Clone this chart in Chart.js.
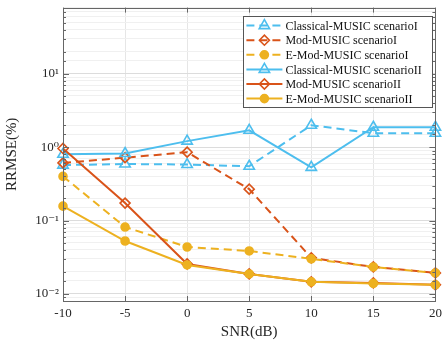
<!DOCTYPE html>
<html>
<head>
<meta charset="utf-8">
<script src="https://cdn.jsdelivr.net/npm/chart.js@4.4.0/dist/chart.umd.min.js"></script>
<style>
  html, body { margin: 0; padding: 0; background: #fff; }
  #wrap { width: 443px; height: 343px; }
</style>
</head>
<body>
<div id="wrap"><canvas id="chart-0"></canvas></div>
<script>
  var snr = [-10, -5, 0, 5, 10, 15, 20];
  var xTicks = [-10, -5, 0, 5, 10, 15, 20];

  var classicalI = [0.57, 0.59, 0.58, 0.55, 1.99, 1.55, 1.55];
  var modI = [0.61, 0.72, 0.855, 0.268, 0.031, 0.0233, 0.0193];
  var eModI = [0.40, 0.0816, 0.0436, 0.0385, 0.030, 0.0233, 0.0193];
  var classicalII = [0.80, 0.82, 1.21, 1.70, 0.53, 1.87, 1.87];
  var modII = [0.96, 0.173, 0.0256, 0.0187, 0.0146, 0.0141, 0.0133];
  var eModII = [0.157, 0.0526, 0.0248, 0.0187, 0.0146, 0.0139, 0.0133];

  var names = [
    'Classical-MUSIC scenarioI',
    'Mod-MUSIC scenarioI',
    'E-Mod-MUSIC scenarioI',
    'Classical-MUSIC scenarioII',
    'Mod-MUSIC scenarioII',
    'E-Mod-MUSIC scenarioII'
  ];

  var blue = '#4DBEEE', orange = '#D95319', yellow = '#EDB120';
  var serif = '"Liberation Serif", "Times New Roman", "DejaVu Serif", serif';
  Chart.defaults.font.family = serif;

  function points(values) {
    return values.map(function(v, i) { return {x: snr[i], y: v}; });
  }

  function makeSet(label, values, color, style, radius, dashed, filled, idx) {
    return {
      label: label,
      data: points(values),
      borderColor: color,
      backgroundColor: color,
      borderWidth: 2,
      borderDash: dashed ? [8, 5] : [],
      pointStyle: style,
      pointRadius: radius,
      pointHoverRadius: radius,
      pointBorderWidth: 1.6,
      pointBorderColor: color,
      pointBackgroundColor: filled ? color : 'rgba(0,0,0,0)',
      tension: 0,
      clip: false,
      order: 6 - idx
    };
  }

  var datasets = [
    makeSet(names[0], classicalI, blue, 'triangle', 6, true, false, 0),
    makeSet(names[1], modI, orange, 'rectRot', 5, true, false, 1),
    makeSet(names[2], eModI, yellow, 'circle', 4, true, true, 2),
    makeSet(names[3], classicalII, blue, 'triangle', 6, false, false, 3),
    makeSet(names[4], modII, orange, 'rectRot', 5, false, false, 4),
    makeSet(names[5], eModII, yellow, 'circle', 4, false, true, 5)
  ];

  var sup = {'-': '\u207B', '0': '\u2070', '1': '\u00B9', '2': '\u00B2', '3': '\u00B3'};
  function isDecade(v) {
    var l = Math.log10(v);
    return Math.abs(l - Math.round(l)) < 1e-9;
  }
  function decadeLabel(v) {
    var e = String(Math.round(Math.log10(v)));
    return '10' + e.split('').map(function(c) { return sup[c]; }).join('');
  }

  // inward ticks and box, like a matlab axes
  var boxPlugin = {
    id: 'box',
    afterDatasetsDraw: function(chart) {
      var ctx = chart.ctx, a = chart.chartArea;
      var xs = chart.scales.x, ys = chart.scales.y;
      ctx.save();
      ctx.strokeStyle = '#666';
      ctx.lineWidth = 1;
      ys.ticks.forEach(function(t) {
        var py = Math.round(ys.getPixelForValue(t.value)) + 0.5;
        if (py < a.top || py > a.bottom) return;
        var len = isDecade(t.value) ? 6 : 3;
        ctx.beginPath();
        ctx.moveTo(a.left, py); ctx.lineTo(a.left + len, py);
        ctx.moveTo(a.right, py); ctx.lineTo(a.right - len, py);
        ctx.stroke();
      });
      xTicks.forEach(function(v) {
        var px = Math.round(xs.getPixelForValue(v)) + 0.5;
        ctx.beginPath();
        ctx.moveTo(px, a.bottom); ctx.lineTo(px, a.bottom - 5);
        ctx.moveTo(px, a.top); ctx.lineTo(px, a.top + 5);
        ctx.stroke();
      });
      ctx.strokeRect(Math.round(a.left) + 0.5, Math.round(a.top) + 0.5,
        Math.round(a.right - a.left), Math.round(a.bottom - a.top));
      ctx.restore();
    }
  };

  var legendPlugin = {
    id: 'boxLegend',
    afterDraw: function(chart) {
      var ctx = chart.ctx, a = chart.chartArea;
      var w = 189, h = 91;
      var x0 = a.right - 3 - w, y0 = a.top + 8;
      ctx.save();
      ctx.fillStyle = '#fff';
      ctx.fillRect(x0, y0, w, h);
      ctx.strokeStyle = '#555';
      ctx.lineWidth = 1;
      ctx.strokeRect(Math.round(x0) + 0.5, Math.round(y0) + 0.5, w, h);
      ctx.font = '12px ' + serif;
      ctx.textBaseline = 'middle';
      chart.data.datasets.forEach(function(ds, i) {
        var cy = y0 + 10 + i * 14.6;
        ctx.strokeStyle = ds.borderColor;
        ctx.lineWidth = 2;
        ctx.setLineDash(ds.borderDash);
        ctx.beginPath();
        ctx.moveTo(x0 + 3, cy); ctx.lineTo(x0 + 39, cy);
        ctx.stroke();
        ctx.setLineDash([]);
        ctx.fillStyle = ds.pointBackgroundColor;
        ctx.strokeStyle = ds.borderColor;
        ctx.lineWidth = 1.6;
        Chart.helpers.drawPoint(ctx, {pointStyle: ds.pointStyle, radius: ds.pointRadius, rotation: 0, borderWidth: 1.6}, x0 + 21, cy);
        ctx.fillStyle = '#111';
        ctx.fillText(ds.label, x0 + 42, cy + 1);
      });
      ctx.restore();
    }
  };

  var chart = new Chart('chart-0', {
    type: 'line',
    data: { datasets: datasets },
    options: {
      responsive: true,
      maintainAspectRatio: false,
      animation: false,
      layout: { padding: { top: 0, right: 0, left: 0, bottom: 0 } },
      plugins: {
        legend: { display: false },
        tooltip: { enabled: false }
      },
      scales: {
        x: {
          type: 'linear',
          min: -10,
          max: 20,
          afterFit: function(s) { s.height = 42; s.paddingRight = 7; },
          afterBuildTicks: function(s) {
            s.ticks = xTicks.map(function(v) { return {value: v}; });
          },
          ticks: { color: '#262626', font: { size: 13 }, padding: 5, maxRotation: 0 },
          grid: { color: '#e6e6e6', drawTicks: false },
          border: { display: false },
          title: { display: true, text: 'SNR(dB)', color: '#262626', font: { size: 15 }, padding: { top: 0, bottom: 2 } }
        },
        y: {
          type: 'logarithmic',
          min: 0.008,
          max: 80,
          afterFit: function(s) { s.width = 63; s.paddingTop = 7; },
          ticks: {
            autoSkip: false,
            color: '#262626',
            font: { size: 13 },
            padding: 4,
            callback: function(v) { return isDecade(v) ? decadeLabel(v) : ''; }
          },
          grid: {
            drawTicks: false,
            color: function(c) {
              return c.tick && isDecade(c.tick.value) ? '#dcdcdc' : '#f0f0f0';
            }
          },
          border: { display: false },
          title: { display: true, text: 'RRMSE(%)', color: '#262626', font: { size: 15 }, padding: { top: 3, bottom: 0 } }
        }
      }
    },
    plugins: [boxPlugin, legendPlugin]
  });
</script>
</body>
</html>
